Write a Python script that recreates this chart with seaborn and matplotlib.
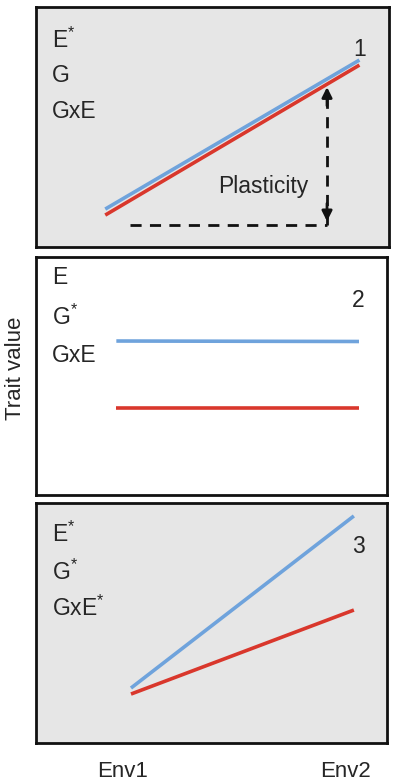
import numpy as np
import pandas as pd
import matplotlib
matplotlib.use("Agg")
import matplotlib.pyplot as plt
import seaborn as sns

# ---------------- data ----------------
env_labels = ["Env1", "Env2"]
env_ticks = [0.0, 1.0]

# panel 1 (E*, G, GxE)
p1_x = [-0.08, 1.065]
p1_blue = [0.158, 0.779]
p1_red = [0.133, 0.758]
# panel 2 (E, G*, GxE)
p2_x = [-0.03, 1.063]
p2_blue = [0.647, 0.645]
p2_red = [0.366, 0.366]
# panel 3 (E*, G*, GxE*)
p3_x = [0.036, 1.04]
p3_blue = [0.229, 0.946]
p3_red = [0.204, 0.554]

panel_effects = [["E$^{*}$", "G", "GxE"], ["E", "G$^{*}$", "GxE"],
                 ["E$^{*}$", "G$^{*}$", "GxE$^{*}$"]]
panel_numbers = ["1", "2", "3"]
panel_bg = ["#e6e6e6", "#ffffff", "#e6e6e6"]

plast_x = 0.919
plast_low = 0.092
plast_start = 0.032

blue = "#6fa3dc"
red = "#d9372c"

# --------------- style ----------------
sns.set_theme(style="white")
plt.rcParams["font.family"] = ["Liberation Sans", "DejaVu Sans"]
plt.rcParams["mathtext.fontset"] = "custom"
plt.rcParams["mathtext.rm"] = "Liberation Sans"
plt.rcParams["mathtext.it"] = "Liberation Sans"
plt.rcParams["mathtext.default"] = "regular"

fig = plt.figure(figsize=(3.93, 7.84), dpi=100)
W, H = 393, 784

def ax_at(l, t, r, b):
    return fig.add_axes([l / W, 1 - b / H, (r - l) / W, (b - t) / H])

boxes = [(36, 7, 389, 247), (36, 257, 387, 495), (36, 503, 387, 743)]
xs = [p1_x, p2_x, p3_x]
blues = [p1_blue, p2_blue, p3_blue]
reds = [p1_red, p2_red, p3_red]
label_y = [[0.8625, 0.715, 0.565], [0.912, 0.748, 0.588], [0.871, 0.713, 0.563]]
num_y = [0.825, 0.819, 0.817]
txt_color = "#262626"
fs = 16.5

axes = []
for i, (l, t, r, b) in enumerate(boxes):
    ax = ax_at(l, t, r, b)
    px_per_unit = 222.0
    ax.set_xlim((l - 123) / px_per_unit, (r - 123) / px_per_unit)
    ax.set_ylim(0, 1)
    ax.set_facecolor(panel_bg[i])
    df = pd.DataFrame({
        "env": xs[i] + xs[i],
        "trait": blues[i] + reds[i],
        "genotype": ["A", "A", "B", "B"],
    })
    sns.lineplot(data=df, x="env", y="trait", hue="genotype",
                 palette={"A": blue, "B": red}, linewidth=2.6,
                 legend=False, ax=ax, solid_capstyle="butt")
    for s in ax.spines.values():
        s.set_visible(True)
        s.set_color("#111111")
        s.set_linewidth(2.0)
    ax.set_xlabel("")
    ax.set_ylabel("")
    ax.set_yticks([])
    ax.set_xticks([])
    for lab, yy in zip(panel_effects[i], label_y[i]):
        ax.text(0.045, yy, lab, transform=ax.transAxes, fontsize=fs,
                ha="left", va="center", color=txt_color)
    ax.text(0.918, num_y[i], panel_numbers[i], transform=ax.transAxes,
            fontsize=fs, ha="center", va="center", color=txt_color)
    axes.append(ax)

# plasticity annotation in panel 1
ax1 = axes[0]
slope = (p1_red[1] - p1_red[0]) / (p1_x[1] - p1_x[0])
red_at = p1_red[0] + slope * (plast_x - p1_x[0])
ax1.plot([plast_start, plast_x], [plast_low, plast_low], color="#111111",
         lw=2.0, dashes=(4.0, 3.0))
ax1.plot([plast_x, plast_x], [plast_low, red_at - 0.04], color="#111111",
         lw=2.0, dashes=(4.0, 3.0))
ax1.annotate("", xy=(plast_x, red_at - 0.012), xytext=(plast_x, red_at - 0.09),
             arrowprops=dict(arrowstyle="-|>", color="#111111", lw=2.0,
                             mutation_scale=15, shrinkA=0, shrinkB=0))
ax1.annotate("", xy=(plast_x, plast_low + 0.015), xytext=(plast_x, plast_low + 0.09),
             arrowprops=dict(arrowstyle="-|>", color="#111111", lw=2.0,
                             mutation_scale=15, shrinkA=0, shrinkB=0))
ax1.text(0.645, 0.25, "Plasticity", transform=ax1.transAxes, fontsize=fs,
         ha="center", va="center", color=txt_color)

# bottom env labels
ax3 = axes[2]
ax3.set_xticks(env_ticks)
ax3.set_xticklabels(env_labels, fontsize=16, color=txt_color)
ax3.tick_params(axis="x", length=0, pad=13)

fig.text(16 / W, 1 - 368 / H, "Trait value", rotation=90, fontsize=16,
         ha="center", va="center", color=txt_color)

fig.savefig("out.png", dpi=100)
